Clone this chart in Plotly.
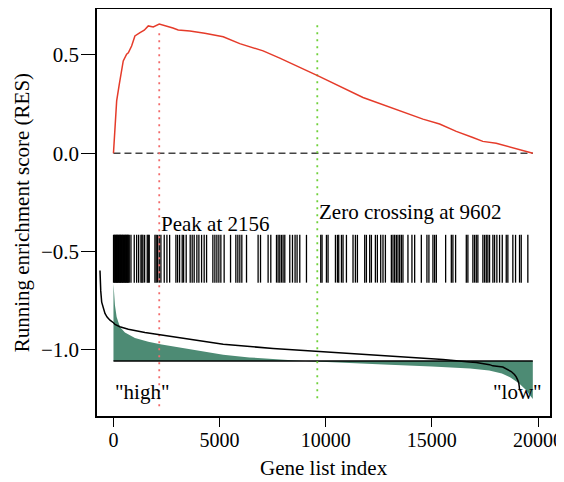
import plotly.graph_objects as go

# --- data ---
# running enrichment score
res_x = [0, 70, 150, 275, 460, 620, 700, 855, 1010, 1250, 1450, 1640, 1875, 2156, 2500, 2800,
         3050, 3600, 4300, 4780, 5170, 5950, 7050, 7835, 8300, 9640, 11755, 13325, 14580,
         15365, 16150, 16930, 17400, 18030, 18815, 19400, 19755]
res_y = [0, 0.13, 0.266, 0.351, 0.469, 0.503, 0.51, 0.545, 0.596, 0.613, 0.625, 0.647, 0.642,
         0.656, 0.647, 0.636, 0.626, 0.621, 0.610, 0.599, 0.592, 0.557, 0.52, 0.483, 0.46,
         0.393, 0.283, 0.224, 0.173, 0.148, 0.111, 0.080, 0.060, 0.050, 0.026, 0.012, 0.0]

# gene set hits (positions in ranked list)
hits = [3, 28, 61, 90, 118, 150, 177, 205, 236, 262, 295, 322, 350, 381, 410, 437, 468, 497,
        523, 556, 584, 612, 640, 671, 698,
        744, 824, 979, 1092, 1186, 1294, 1340, 1388, 1468, 1591, 1640, 1685, 1953, 2014, 2080,
        2156, 2235, 2391, 2518, 2645, 2941, 3021, 3115, 3238, 3304, 3426, 3614, 3708, 3802,
        3929, 4024, 4151, 4273, 4386,
        4682, 4777, 4871, 4965, 5059, 5214, 5515, 5765, 5859, 5953, 6047, 6268, 6814, 6927,
        7285, 7412, 7680, 7756, 7835, 7915, 7991, 8071, 8306, 8433, 8555, 8650, 8777, 9092,
        9765, 9826, 10033, 10109, 10457, 10551, 10612, 10739, 10815, 10975, 11285, 11398,
        11492, 11836, 11916, 12071, 12151, 12339, 12433, 12589, 12697, 12810, 13092, 13168,
        13247, 13327, 13403, 13483, 13562, 13638, 13873, 14061, 14189, 14504,
        14767, 14861, 15050, 15130, 15210, 15648, 15916, 15991, 16118, 16622, 16697, 16932,
        17012, 17092, 17167, 17403, 17483, 17563, 17638, 17718, 17874, 17954, 18062, 18189,
        18316, 18504, 18580, 18815, 18942, 19130, 19210, 19521]

# ranked list metric (black curve)
met_x = [-635, -630, -600, -555, -480, -400, -300, -165, 0, 70, 300, 700, 1480, 2270, 2894,
         4000, 5170, 7520, 9250, 9875, 11000, 13170, 15520, 16776, 17090, 17718, 17870, 18343,
         18500, 18737, 18890, 18973, 19050, 19097, 19120, 19130]
met_y = [-0.596, -0.64, -0.70, -0.757, -0.79, -0.815, -0.833, -0.849, -0.862, -0.870, -0.882,
         -0.895, -0.912, -0.925, -0.937, -0.952, -0.971, -0.993, -1.005, -1.010, -1.020, -1.035,
         -1.049, -1.062, -1.064, -1.075, -1.081, -1.087, -1.095, -1.11, -1.125, -1.137, -1.155,
         -1.17, -1.19, -1.205]

# scaled metric drawn as green area around the baseline
grn_x = [0, 70, 150, 306, 541, 1012, 1640, 2270, 2894, 4000, 5170, 6400, 7520, 8400, 9250,
         11000, 13000, 15000, 16800, 17700, 18300, 18700, 19100, 19400, 19650, 19755]
grn_y = [-0.663, -0.773, -0.833, -0.883, -0.912, -0.939, -0.959, -0.973, -0.985, -1.003,
         -1.025, -1.038, -1.048, -1.053, -1.058, -1.065, -1.075, -1.085, -1.095, -1.105, -1.12,
         -1.14, -1.17, -1.20, -1.235, -1.25]

x_ticks = [0, 5000, 10000, 15000, 20000]
y_ticks = [-1.0, -0.5, 0.0, 0.5]

n_genes = 19755
peak_at = 2156
zero_cross = 9602
baseline = -1.056
hit_top, hit_bot = -0.415, -0.658

FONT = "Liberation Serif, Times New Roman, serif"

fig = go.Figure()

# green area
fig.add_trace(go.Scatter(
    x=[0] + grn_x + [n_genes], y=[baseline] + grn_y + [baseline],
    mode="lines", fill="toself", fillcolor="#4d8b74", line=dict(width=0),
    hoverinfo="skip"))

# baseline
fig.add_trace(go.Scatter(x=[0, n_genes], y=[baseline, baseline], mode="lines",
                         line=dict(color="black", width=1.5)))

# zero line
fig.add_trace(go.Scatter(x=[0, n_genes], y=[0, 0], mode="lines",
                         line=dict(color="#444444", width=1.5, dash="7px,4px")))

# hits
hx, hy = [], []
for h in hits:
    hx += [h, h, None]
    hy += [hit_top, hit_bot, None]
fig.add_trace(go.Scatter(x=hx, y=hy, mode="lines", line=dict(color="black", width=1.3)))

# peak / zero crossing markers
fig.add_trace(go.Scatter(x=[peak_at, peak_at], y=[0.61, -1.29], mode="lines",
                         line=dict(color="#f26b6b", width=1.8, dash="2px,5px")))
fig.add_trace(go.Scatter(x=[zero_cross, zero_cross], y=[0.65, -1.26], mode="lines",
                         line=dict(color="#6fd13a", width=1.8, dash="2px,5px")))

# metric curve
fig.add_trace(go.Scatter(x=met_x, y=met_y, mode="lines", line=dict(color="black", width=1.5)))

# running enrichment score
fig.add_trace(go.Scatter(x=res_x, y=res_y, mode="lines", line=dict(color="#e53b2a", width=1.5)))

txt = dict(family=FONT, size=21, color="black")
fig.add_annotation(x=peak_at, y=-0.36, text="Peak at 2156", showarrow=False,
                   xanchor="left", yanchor="middle", font=txt)
fig.add_annotation(x=zero_cross, y=-0.30, text="Zero crossing at 9602", showarrow=False,
                   xanchor="left", yanchor="middle", font=txt)
fig.add_annotation(x=0, y=-1.215, text='"high"', showarrow=False,
                   xanchor="left", yanchor="middle", font=txt)
fig.add_annotation(x=20300, y=-1.215, text='"low"', showarrow=False,
                   xanchor="right", yanchor="middle", font=txt)
fig.add_annotation(xref="paper", yref="paper", x=-0.166, y=0.5,
                   text="Running enrichment score (RES)", textangle=-90, showarrow=False,
                   xanchor="center", yanchor="middle", font=txt)
fig.add_annotation(xref="paper", yref="paper", x=0.5, y=-0.128, text="Gene list index",
                   showarrow=False, xanchor="center", yanchor="middle", font=txt)

# the page puts the figure 8px in from the top-left corner, so keep it inside the window
fig.update_layout(
    width=556, height=474,
    margin=dict(l=89, r=14, t=1, b=66, autoexpand=False),
    plot_bgcolor="white", paper_bgcolor="white",
    showlegend=False,
    font=txt,
)
fig.update_xaxes(range=[-776, 20565], tickvals=x_ticks, ticktext=[str(v) for v in x_ticks],
                 showgrid=False, zeroline=False, ticks="outside", ticklen=9,
                 ticklabelstandoff=-4, ticklabeloverflow="allow",
                 tickcolor="black", linecolor="black", linewidth=1.5, mirror=True,
                 showline=True, tickfont=dict(family=FONT, size=20, color="black"),
                 automargin=False)
fig.update_yaxes(range=[-1.336, 0.733], tickvals=y_ticks, tickformat=".1f",
                 showgrid=False, zeroline=False, ticks="outside", ticklen=14,
                 ticklabelstandoff=-2,
                 tickcolor="black", linecolor="black", linewidth=1.5, mirror=True,
                 showline=True, tickfont=txt, automargin=False)

fig.write_html("out.html")
